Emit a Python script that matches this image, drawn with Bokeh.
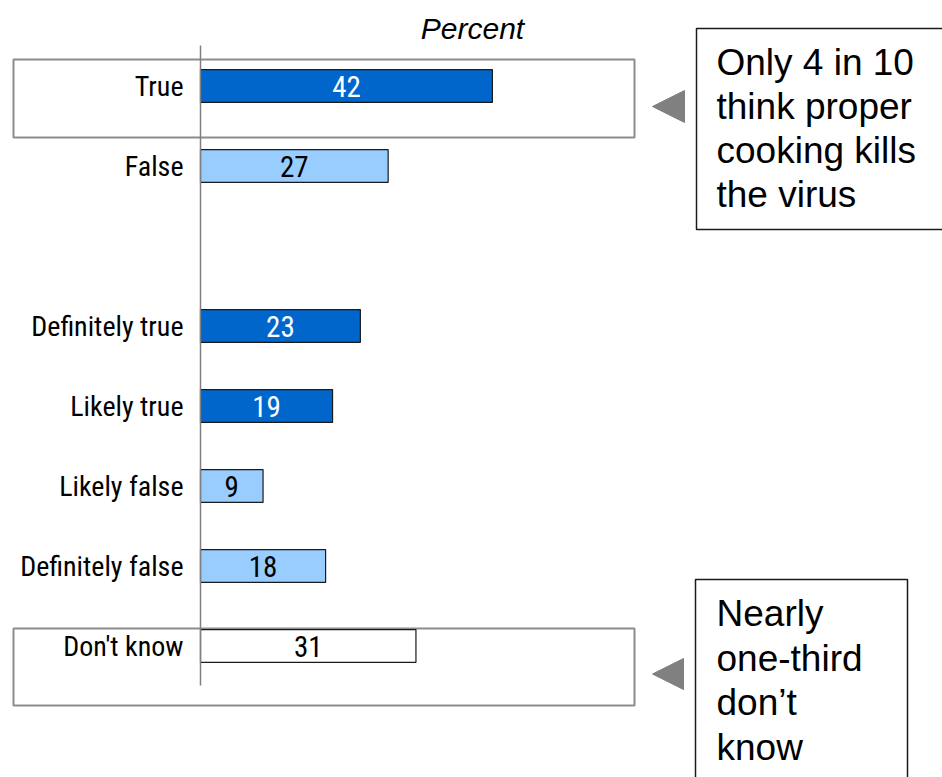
from bokeh.plotting import figure
from bokeh.models import Range1d, ColumnDataSource
from bokeh.core.properties import value
from bokeh.embed import file_html
from bokeh.resources import INLINE

# ---- data ----
categories = ["True", "False", "Definitely true", "Likely true",
              "Likely false", "Definitely false", "Don't know"]
percents = [42, 27, 23, 19, 9, 18, 31]
gap_after = "False"          # blank row after this category
axis_title = "Percent"
callout_top = ["Only 4 in 10", "think proper", "cooking kills", "the virus"]
callout_bottom = ["Nearly", "one-third", "don\u2019t", "know"]

# ---- layout helpers ----
W, H = 942, 777
PX = 6.95          # pixels per percent
X0 = 200           # pixel of 0 %
ROW0 = 85.5        # pixel of first row centre
STEP = 80          # pixels per row

def sx(p):
    return (p - X0) / PX

def sy(p):
    return -(p - ROW0) / STEP

rows = []
r = 0
for c in categories:
    rows.append(r)
    r += 2 if c == gap_after else 1
ys = [-v for v in rows]

DARK, LIGHT, WHITE = "#0066CC", "#99CCFF", "#FFFFFF"
fills, tcols = [], []
for c in categories:
    lc = c.lower()
    if "know" in lc:
        fills.append(WHITE); tcols.append("black")
    elif "true" in lc:
        fills.append(DARK); tcols.append("white")
    else:
        fills.append(LIGHT); tcols.append("black")

src = ColumnDataSource(dict(cat=categories, val=percents, y=ys,
                            mid=[v / 2 for v in percents],
                            lab=[str(v) for v in percents],
                            fill=fills, tcol=tcols,
                            lx=[sx(183)] * len(categories)))

p = figure(width=W, height=H, output_backend="svg", toolbar_location=None,
           x_range=Range1d(sx(0), sx(W)), y_range=Range1d(sy(H), sy(0)),
           min_border=0, outline_line_color=None)
p.axis.visible = False
p.grid.visible = False
p.background_fill_color = "white"
p.border_fill_color = "white"

NARROW = value("Roboto Condensed")
ARIAL = value("Liberation Sans")

# highlight boxes around True and Don't know
i_t = categories.index("True")
i_d = categories.index("Don't know")
p.quad(left=sx(13), right=sx(634), top=ys[i_t] + 0.33, bottom=ys[i_t] - 0.645,
       fill_color=None, line_color="#8C8C8C", line_width=2)
p.quad(left=sx(13), right=sx(634), top=ys[i_d] + 0.22, bottom=ys[i_d] - 0.745,
       fill_color=None, line_color="#8C8C8C", line_width=2)

# bars
p.hbar(y="y", left=0, right="val", height=0.41, fill_color="fill",
       line_color="#1a1a1a", line_width=1.2, source=src)

# baseline axis
p.segment(x0=0, x1=0, y0=sy(45), y1=sy(685), line_color="#808080", line_width=1.5)

# value labels
p.text(x="mid", y="y", text="lab", text_color="tcol", text_align="center",
       text_baseline="middle", text_font=NARROW, text_font_size="29px",
       text_font_style="normal", source=src)

# category labels
p.text(x="lx", y="y", text="cat", text_align="right", text_baseline="middle",
       text_font=NARROW, text_font_size="28px", text_color="black", source=src)

# axis title
p.text(x=[sx(472)], y=[sy(28)], text=[axis_title], text_align="center",
       text_baseline="middle", text_font=ARIAL, text_font_size="30px",
       text_font_style="italic", text_color="black")

# callout boxes
p.quad(left=sx(696), right=sx(960), top=sy(28), bottom=sy(229),
       fill_color="white", line_color="#1a1a1a", line_width=1.5)
p.quad(left=sx(695), right=sx(907), top=sy(579), bottom=sy(800),
       fill_color="white", line_color="#1a1a1a", line_width=1.5)

# pointer triangles
p.patch(x=[sx(652), sx(684), sx(684)], y=[sy(106), sy(90), sy(122)],
        fill_color="#808080", line_color="#808080")
p.patch(x=[sx(652), sx(683), sx(683)], y=[sy(673.5), sy(658), sy(689)],
        fill_color="#808080", line_color="#808080")

# callout texts
p.text(x=[sx(716)] * 4, y=[sy(62 + 44 * k) for k in range(4)], text=callout_top,
       text_align="left", text_baseline="alphabetic", text_font=ARIAL,
       text_font_size="37px", text_color="black")
p.text(x=[sx(716)] * 4, y=[sy(613 + 44.5 * k) for k in range(4)], text=callout_bottom,
       text_align="left", text_baseline="alphabetic", text_font=ARIAL,
       text_font_size="37px", text_color="black")

open("out.html", "w").write(file_html(p, INLINE))
